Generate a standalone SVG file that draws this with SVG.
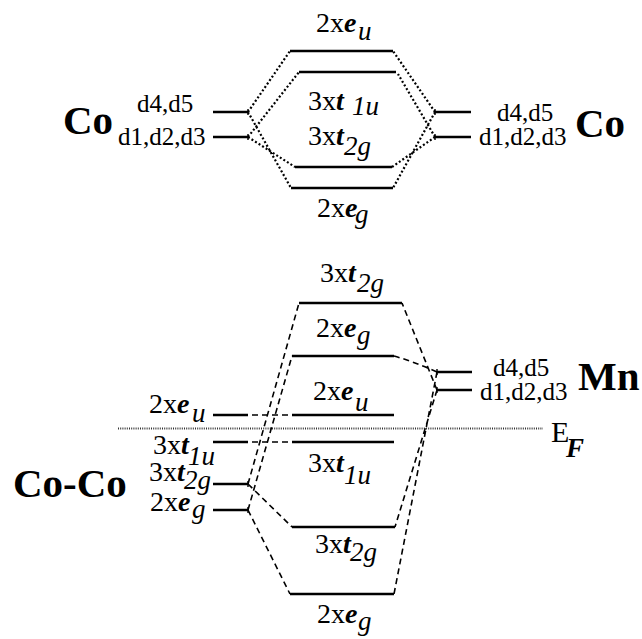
<svg xmlns="http://www.w3.org/2000/svg" width="642" height="639" viewBox="0 0 642 639">
<style>
text{font-family:"Liberation Serif","Times New Roman",serif;fill:#000}
.lab{font-size:28px}
.sub{font-size:27px;font-style:italic}
.bi{font-weight:bold;font-style:italic}
.d{font-size:25px}
.big{font-size:41px;font-weight:bold}
.lvl{stroke:#000;stroke-width:2.6;fill:none}
.tick{stroke:#000;stroke-width:1.4;fill:none}
.dot{stroke:#000;stroke-width:2.2;fill:none;stroke-dasharray:2 2.2}
.dash{stroke:#000;stroke-width:1.6;fill:none;stroke-dasharray:6 4}
.ef{stroke:#333;stroke-width:2;fill:none;stroke-dasharray:1 1.2}
</style>
<rect width="642" height="639" fill="#fff"/>

<!-- Top: Co - Co -->
<g id="co-left">
<text class="big" x="63" y="134">Co</text>
<text class="d" x="137" y="112">d4,d5</text>
<text class="d" x="118" y="145">d1,d2,d3</text>
<path class="lvl" d="M213 112H248M213 137H248"/>
<path class="tick" d="M248 109V115M248 134V140"/>
</g>
<g id="co-right">
<text class="big" x="575" y="137">Co</text>
<text class="d" x="497" y="121">d4,d5</text>
<text class="d" x="479" y="145">d1,d2,d3</text>
<path class="lvl" d="M435 112H471M435 137H471"/>
<path class="tick" d="M435 109V115M435 134V140"/>
</g>
<g id="top-eu">
<text class="lab" x="316" y="32">2x<tspan class="bi">e</tspan><tspan class="sub" x="358" y="40">u</tspan></text>
<path class="lvl" d="M290 51H393"/>
</g>
<g id="top-t1u">
<path class="lvl" d="M299 72H396"/>
<text class="lab" x="308" y="110">3x<tspan class="bi">t</tspan><tspan class="sub" x="352" y="115">1u</tspan></text>
</g>
<g id="top-t2g">
<text class="lab" x="308" y="145">3x<tspan class="bi">t</tspan><tspan class="sub" x="344" y="155">2g</tspan></text>
<path class="lvl" d="M295 167H392"/>
</g>
<g id="top-eg">
<path class="lvl" d="M291 188H393"/>
<text class="lab" x="317" y="217">2x<tspan class="bi">e</tspan><tspan class="sub" x="355" y="223">g</tspan></text>
</g>

<!-- Bottom: Co-Co / Mn -->
<g id="ef">
<path class="ef" d="M118 428.5H543"/>
<text class="lab" x="551" y="442" style="font-size:30px">E<tspan class="bi" x="566" y="457" style="font-size:27px">F</tspan></text>
</g>
<g id="coco">
<text class="big" x="13" y="497">Co-Co</text>
</g>
<g id="l-eu">
<text class="lab" x="149" y="413">2x<tspan class="bi">e</tspan><tspan class="sub" x="192" y="422">u</tspan></text>
<path class="lvl" d="M213 415H248"/>
</g>
<g id="l-t1u">
<text class="lab" x="153" y="454">3x<tspan class="bi">t</tspan><tspan class="sub" x="188" y="465">1u</tspan></text>
<path class="lvl" d="M213 442H248"/>
</g>
<g id="l-t2g">
<text class="lab" x="149" y="481">3x<tspan class="bi">t</tspan><tspan class="sub" x="184" y="489">2g</tspan></text>
<path class="lvl" d="M213 484H248"/>
<path class="tick" d="M248 481V487"/>
</g>
<g id="l-eg">
<text class="lab" x="150" y="511">2x<tspan class="bi">e</tspan><tspan class="sub" x="192" y="518">g</tspan></text>
<path class="lvl" d="M213 510H248"/>
<path class="tick" d="M248 507V513"/>
</g>
<g id="mn">
<path class="lvl" d="M437 372H472M437 390H472"/>
<path class="tick" d="M437 369V375M437 387V393"/>
<text class="d" x="493" y="376">d4,d5</text>
<text class="d" x="480" y="400">d1,d2,d3</text>
<text class="big" x="578" y="390">Mn</text>
</g>
<g id="b-t2g-top">
<text class="lab" x="320" y="282">3x<tspan class="bi">t</tspan><tspan class="sub" x="357" y="292">2g</tspan></text>
<path class="lvl" d="M299 303H402"/>
</g>
<g id="b-eg-top">
<text class="lab" x="316" y="337">2x<tspan class="bi">e</tspan><tspan class="sub" x="357" y="344">g</tspan></text>
<path class="lvl" d="M292 356H394"/>
</g>
<g id="b-eu">
<text class="lab" x="313" y="400">2x<tspan class="bi">e</tspan><tspan class="sub" x="355" y="411">u</tspan></text>
<path class="lvl" d="M292 415H394"/>
</g>
<g id="b-t1u">
<path class="lvl" d="M292 442H394"/>
<text class="lab" x="308" y="472">3x<tspan class="bi">t</tspan><tspan class="sub" x="344" y="484">1u</tspan></text>
</g>
<g id="b-t2g">
<path class="lvl" d="M292 527H395"/>
<text class="lab" x="315" y="553">3x<tspan class="bi">t</tspan><tspan class="sub" x="350" y="561">2g</tspan></text>
</g>
<g id="b-eg">
<path class="lvl" d="M290 594H394"/>
<text class="lab" x="317" y="623">2x<tspan class="bi">e</tspan><tspan class="sub" x="358" y="630">g</tspan></text>
</g>

<g id="connectors">
<!-- top dotted -->
<path class="dot" d="M248 112L290 51M248 112L291 188M248 137L299 72M248 137L295 167"/>
<path class="dot" d="M435 112L393 51M435 112L393 188M435 137L398 74M435 137L392 167"/>
<!-- bottom dashed -->
<path class="dash" d="M252 415H292M252 442H292"/>
<path class="dash" d="M248 484L299 303M248 484L292 527M248 510L292 356M248 510L290 594"/>
<path class="dash" d="M437 390L402 303M437 372Q415 362 394 356M437 372L394 594M437 390L395 527"/>
</g>
</svg>
